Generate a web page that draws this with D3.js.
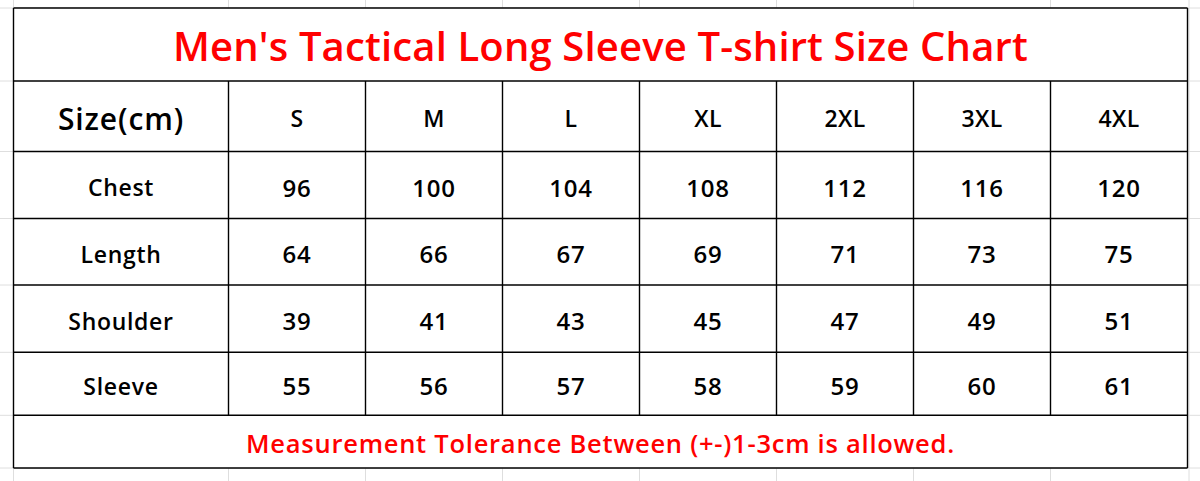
<!DOCTYPE html>
<html>
<head>
<meta charset="utf-8">
<script src="https://cdn.jsdelivr.net/npm/d3@7"></script>
<style>
  html, body { margin: 0; padding: 0; background: #fff; }
  svg { display: block; }
</style>
</head>
<body>
<svg id="chart" width="1200" height="481"></svg>
<script>
// ---- data ----
const title = "Men's Tactical Long Sleeve T-shirt Size Chart";
const headerLabel = "Size(cm)";
const sizes = ["S", "M", "L", "XL", "2XL", "3XL", "4XL"];
const measures = ["Chest", "Length", "Shoulder", "Sleeve"];
const chest = [96, 100, 104, 108, 112, 116, 120];
const length = [64, 66, 67, 69, 71, 73, 75];
const shoulder = [39, 41, 43, 45, 47, 49, 51];
const sleeve = [55, 56, 57, 58, 59, 60, 61];
const footnote = "Measurement Tolerance Between (+-)1-3cm is allowed.";

const values = [chest, length, shoulder, sleeve];

// ---- layout ----
const W = 1200, H = 481;
const left = 13.5, firstColRight = 228.5, right = 1187.5;
const rowEdges = [8, 81, 151.5, 218.5, 285, 352.3, 415.3, 468];

const svg = d3.select("#chart");

const x = d3.scaleBand().domain(sizes).range([firstColRight, right]);
const rowY = d3.scaleOrdinal().domain(["title", "header", ...measures, "foot"]).range(rowEdges.slice(0, 7));
const rowH = d3.scaleOrdinal().domain(["title", "header", ...measures, "foot"])
  .range(rowEdges.slice(1).map((e, i) => e - rowEdges[i]));

// background spreadsheet grid
const grid = svg.append("g").attr("stroke", "#dedede").attr("stroke-width", 1);
const vLines = [left, firstColRight, ...sizes.slice(1).map(s => x(s)), right + 1.5];
grid.selectAll("line.v").data(vLines).join("line")
  .attr("x1", d => d).attr("x2", d => d).attr("y1", 0).attr("y2", H);
grid.selectAll("line.h").data(rowEdges).join("line")
  .attr("x1", 0).attr("x2", W).attr("y1", d => d).attr("y2", d => d);

// white table body
svg.append("rect").attr("x", left).attr("y", rowEdges[0])
  .attr("width", right - left).attr("height", rowEdges[7] - rowEdges[0]).attr("fill", "#fff");

// table lines
const lines = svg.append("g").attr("stroke", "#000").attr("stroke-width", 1.4);
lines.selectAll("line.h").data(rowEdges).join("line")
  .attr("x1", left).attr("x2", right).attr("y1", d => d).attr("y2", d => d);
lines.selectAll("line.vo").data([left, right]).join("line")
  .attr("x1", d => d).attr("x2", d => d).attr("y1", rowEdges[0]).attr("y2", rowEdges[7]);
lines.selectAll("line.vi").data([firstColRight, ...sizes.slice(1).map(s => x(s))]).join("line")
  .attr("x1", d => d).attr("x2", d => d).attr("y1", rowEdges[1]).attr("y2", rowEdges[6]);

const font = "'Open Sans', 'Noto Sans', sans-serif";

// title
svg.append("text").text(title)
  .attr("x", (left + right) / 2).attr("y", rowY("title") + rowH("title") / 2 + 1)
  .attr("text-anchor", "middle").attr("dominant-baseline", "central")
  .attr("font-family", font).attr("font-weight", 600).attr("font-size", 40)
  .attr("letter-spacing", 0.15)
  .attr("fill", "#ff0000");

// header row
svg.append("text").text(headerLabel)
  .attr("x", (left + firstColRight) / 2).attr("y", rowY("header") + rowH("header") / 2 + 2)
  .attr("text-anchor", "middle").attr("dominant-baseline", "central")
  .attr("font-family", font).attr("font-weight", 600).attr("font-size", 30)
  .attr("letter-spacing", 0.9)
  .attr("fill", "#000");

svg.selectAll("text.size").data(sizes).join("text").attr("class", "size")
  .text(d => d)
  .attr("x", d => x(d) + x.bandwidth() / 2)
  .attr("y", rowY("header") + rowH("header") / 2 + 2)
  .attr("text-anchor", "middle").attr("dominant-baseline", "central")
  .attr("font-family", font).attr("font-weight", 600).attr("font-size", 23)
  .attr("letter-spacing", 0.4)
  .attr("fill", "#000");

// measure rows
const rows = svg.selectAll("g.row").data(measures).join("g").attr("class", "row")
  .attr("transform", d => `translate(0,${rowY(d) + rowH(d) / 2 + 2})`);

rows.append("text").text(d => d)
  .attr("x", (left + firstColRight) / 2)
  .attr("text-anchor", "middle").attr("dominant-baseline", "central")
  .attr("font-family", font).attr("font-weight", 600).attr("font-size", 23)
  .attr("letter-spacing", 0.7)
  .attr("fill", "#000");

rows.selectAll("text.val").data((d, i) => values[i].map((v, j) => ({ v, s: sizes[j] })))
  .join("text").attr("class", "val")
  .text(d => d.v)
  .attr("x", d => x(d.s) + x.bandwidth() / 2)
  .attr("text-anchor", "middle").attr("dominant-baseline", "central")
  .attr("font-family", font).attr("font-weight", 600).attr("font-size", 24)
  .attr("letter-spacing", 0.8)
  .attr("fill", "#000");

// footnote
svg.append("text").text(footnote)
  .attr("x", (left + right) / 2).attr("y", rowY("foot") + rowH("foot") / 2 + 1)
  .attr("text-anchor", "middle").attr("dominant-baseline", "central")
  .attr("font-family", font).attr("font-weight", 600).attr("font-size", 25.5)
  .attr("letter-spacing", 0.75)
  .attr("fill", "#ff0000");
</script>
</body>
</html>
